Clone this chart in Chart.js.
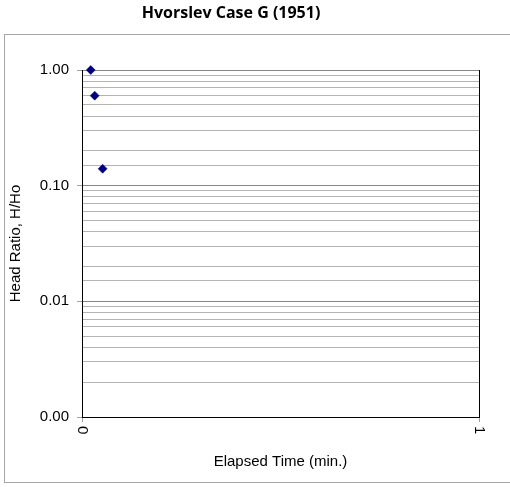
<!DOCTYPE html>
<html lang="en">
<head>
  <title>Hvorslev Case G (1951)</title>
  <meta name="viewport" content="width=device-width, initial-scale=1">
  <script src="https://cdn.jsdelivr.net/npm/chart.js@4/dist/chart.umd.min.js"></script>
  <style>
    body { margin: 0; background: #fff; }
    canvas { display: block; }
  </style>
</head>

<body>
  <canvas id="mycanvas" width="510" height="487"></canvas>
</body>

<script>

// slug test readings: elapsed time (min) and head ratio H/Ho
const timeMin   = [0.022, 0.032, 0.052];
const headRatio = [1.00, 0.60, 0.14];

const chartTitle = 'Hvorslev Case G (1951)';
const xTitle = 'Elapsed Time (min.)';
const yTitle = 'Head Ratio, H/Ho';
const xMin = 0, xMax = 1;
const yMin = 0.001, yMax = 1;

const points = timeMin.map((t, i) => ({x: t, y: headRatio[i]}));

// true for 0.001, 0.01, 0.1, 1
function isDecade(v) {
  const e = Math.log10(v);
  return Math.abs(e - Math.round(e)) < 1e-9;
}

Chart.defaults.font.family = '"Liberation Sans", Arial, sans-serif';
Chart.defaults.font.size = 15;
Chart.defaults.color = '#000';

// outer frame, chart title and the x labels (rotated clockwise like excel)
const excelBits = {
  id: 'excelBits',
  beforeDraw(chart) {
    const ctx = chart.ctx;
    ctx.save();
    ctx.fillStyle = '#fff';
    ctx.fillRect(0, 0, chart.width, chart.height);
    ctx.strokeStyle = '#a6a6a6';
    ctx.lineWidth = 1;
    ctx.strokeRect(4.5, 34.5, chart.width + 10, 448);
    ctx.fillStyle = '#000';
    ctx.font = 'bold 16px "Open Sans", Lato, sans-serif';
    ctx.textAlign = 'center';
    ctx.textBaseline = 'alphabetic';
    ctx.fillText(chartTitle, 231, 18);
    ctx.restore();
  },
  afterDraw(chart) {
    const ctx = chart.ctx;
    const xs = chart.scales.x;
    ctx.save();
    ctx.fillStyle = '#000';
    ctx.font = '15px "Liberation Sans", Arial, sans-serif';
    ctx.textAlign = 'left';
    ctx.textBaseline = 'middle';
    xs.ticks.forEach(t => {
      ctx.save();
      ctx.translate(xs.getPixelForValue(t.value), xs.top + 9);
      ctx.rotate(Math.PI / 2);
      ctx.fillText(String(t.value), 0, 0);
      ctx.restore();
    });
    ctx.restore();
  }
};

var ctx_live = document.getElementById('mycanvas');
var myChart = new Chart(ctx_live, {
  type: 'scatter',
  data: {
    datasets: [{
      data: points,
      pointStyle: 'rectRot',
      pointRadius: 4.5,
      pointBorderWidth: 0.5,
      backgroundColor: '#000080',
      borderColor: '#000080',
      clip: false
    }]
  },
  options: {
    responsive: false,
    animation: false,
    layout: {padding: {left: 4, top: 70, right: 31, bottom: 5}},
    scales: {
      x: {
        type: 'linear',
        min: xMin,
        max: xMax,
        afterFit: s => { s.height = 65; },
        border: {color: '#000', width: 1},
        grid: {color: '#000', tickColor: '#a0a0a0', tickLength: 5},
        ticks: {stepSize: 1, color: 'rgba(0,0,0,0)', minRotation: 90, maxRotation: 90},
        title: {display: true, text: xTitle, padding: {top: 0, bottom: 11}}
      },
      y: {
        type: 'logarithmic',
        min: yMin,
        max: yMax,
        afterFit: s => { s.width = 78; },
        border: {color: '#000', width: 1},
        grid: {
          color: c => isDecade(c.tick.value) ? '#868686' : '#b4b4b4',
          tickColor: c => isDecade(c.tick.value) ? '#a0a0a0' : 'rgba(0,0,0,0)',
          tickLength: 5
        },
        ticks: {
          autoSkip: false,
          padding: 8,
          callback: v => isDecade(v) ? v.toFixed(2) : ''
        },
        title: {display: true, text: yTitle, padding: {top: 3, bottom: 0}}
      }
    },
    plugins: {
      legend: {display: false},
      tooltip: {enabled: false}
    }
  },
  plugins: [excelBits]
});

</script>
</html>
